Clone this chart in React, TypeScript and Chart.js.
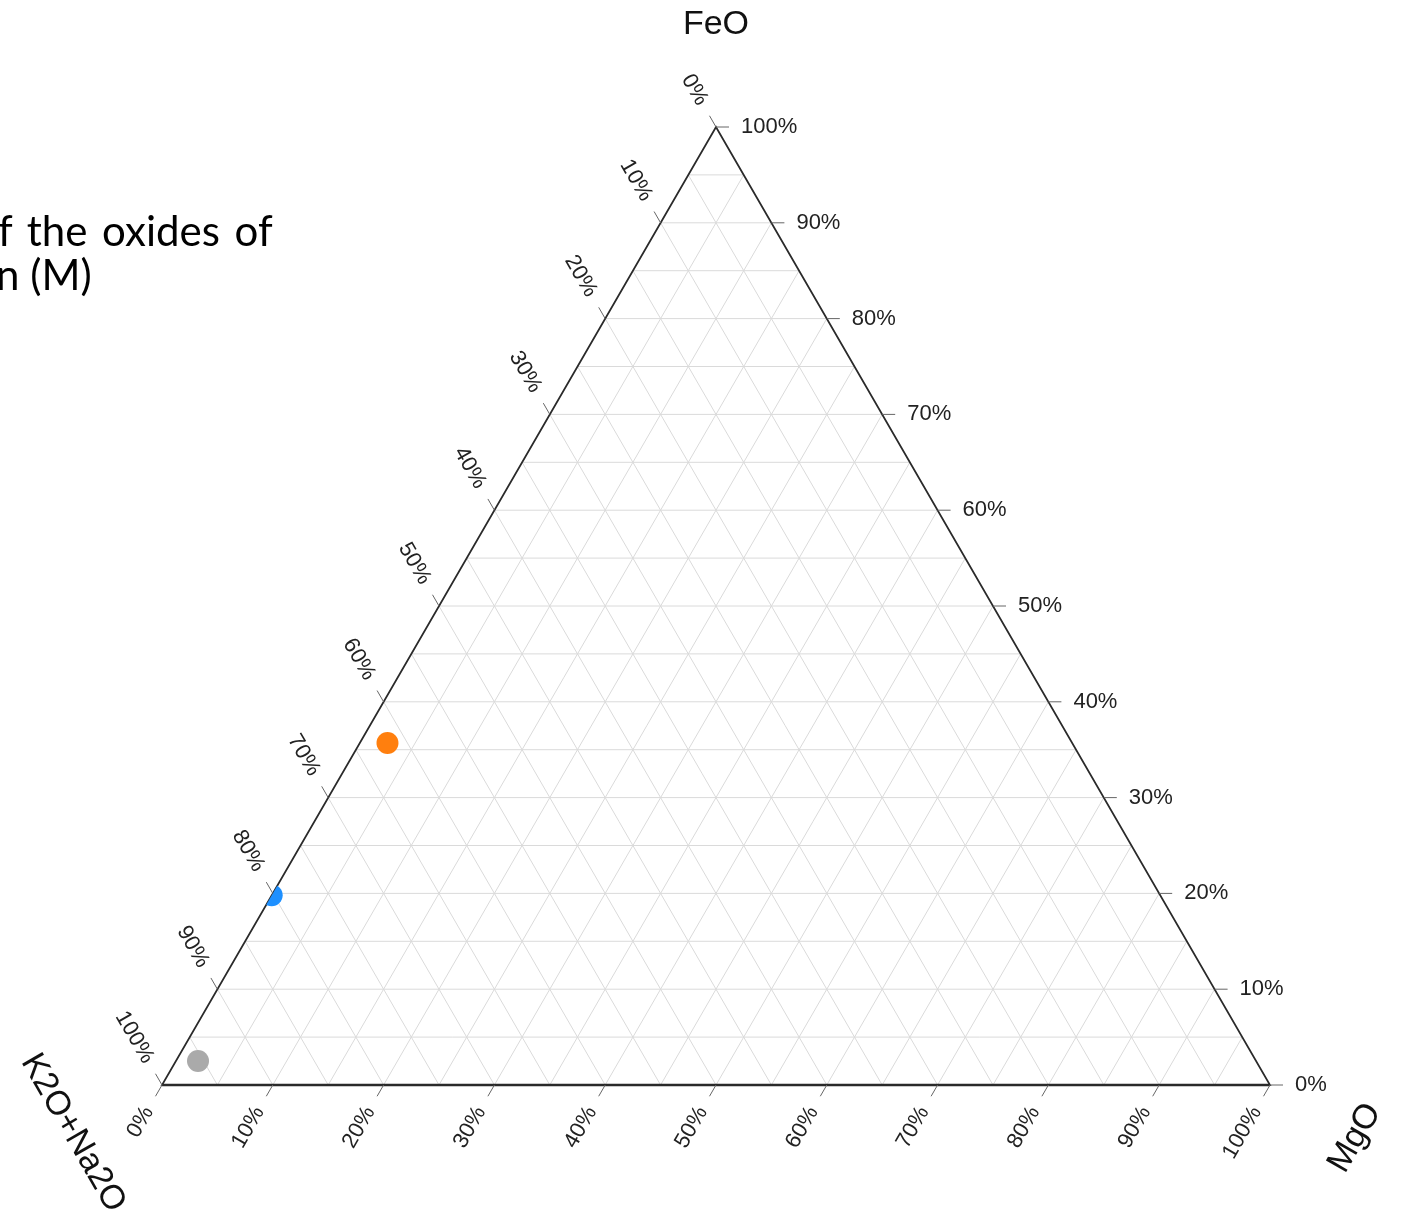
import React, { useEffect, useRef } from "react";
import { Chart, registerables } from "chart.js";

Chart.register(...registerables);

// ---- data ----
const SAMPLES = ["Sample A", "Sample B", "Sample C"];
const FEO = [35.7, 19.8, 2.5];
const MGO = [2.5, 0.0, 2.0];
const ALK = [61.8, 80.2, 95.5];
const COLORS = ["#ff7f0e", "#1e90ff", "#aaaaaa"];

const GRID_STEPS = [5, 10, 15, 20, 25, 30, 35, 40, 45, 50, 55, 60, 65, 70, 75, 80, 85, 90, 95];
const TICK_VALUES = [0, 10, 20, 30, 40, 50, 60, 70, 80, 90, 100];
const TICK_LABELS = TICK_VALUES.map((v) => v + "%");

const TITLE_TOP = "FeO";
const TITLE_LEFT = "K2O+Na2O";
const TITLE_RIGHT = "MgO";
const NOTE_LINES = ["f the oxides of", "n (M)"];

const H = Math.sqrt(3) / 2;

function toXY(m: number, f: number) {
  return { x: m + f / 2, y: f * H };
}

function pix(chart: any, m: number, f: number): [number, number] {
  const p = toXY(m, f);
  return [chart.scales.x.getPixelForValue(p.x), chart.scales.y.getPixelForValue(p.y)];
}

function trianglePath(ctx: CanvasRenderingContext2D, chart: any) {
  const a = pix(chart, 0, 0);
  const b = pix(chart, 1, 0);
  const c = pix(chart, 0, 1);
  ctx.beginPath();
  ctx.moveTo(a[0], a[1]);
  ctx.lineTo(b[0], b[1]);
  ctx.lineTo(c[0], c[1]);
  ctx.closePath();
}

const ternaryPlugin = {
  id: "ternary",
  beforeDatasetsDraw(chart: any) {
    const ctx: CanvasRenderingContext2D = chart.ctx;
    ctx.save();
    // grid
    ctx.strokeStyle = "#dadada";
    ctx.lineWidth = 1;
    GRID_STEPS.forEach((s) => {
      const g = s / 100;
      const segs: [number, number, number, number][] = [
        [0, g, 1 - g, g],
        [g, 0, g, 1 - g],
        [1 - g, 0, 0, 1 - g],
      ];
      segs.forEach(([m1, f1, m2, f2]) => {
        const p1 = pix(chart, m1, f1);
        const p2 = pix(chart, m2, f2);
        ctx.beginPath();
        ctx.moveTo(p1[0], p1[1]);
        ctx.lineTo(p2[0], p2[1]);
        ctx.stroke();
      });
    });
    // border
    ctx.strokeStyle = "#2a2a2a";
    ctx.lineWidth = 1.8;
    trianglePath(ctx, chart);
    ctx.stroke();
    const bl = pix(chart, 0, 0);
    const br = pix(chart, 1, 0);
    ctx.lineWidth = 2.6;
    ctx.beginPath();
    ctx.moveTo(bl[0], bl[1]);
    ctx.lineTo(br[0], br[1]);
    ctx.stroke();
    ctx.restore();
    // clip datasets to the triangle
    ctx.save();
    trianglePath(ctx, chart);
    ctx.clip();
  },
  afterDatasetsDraw(chart: any) {
    chart.ctx.restore();
  },
  afterDraw(chart: any) {
    const ctx: CanvasRenderingContext2D = chart.ctx;
    ctx.save();
    const tickLen = 13;
    const labelGap = 27;
    const c60 = 0.5;
    const s60 = H;
    ctx.font = "22px 'Liberation Sans', Arial, sans-serif";
    ctx.fillStyle = "#222";
    ctx.strokeStyle = "#666";
    ctx.lineWidth = 1;
    TICK_VALUES.forEach((v, i) => {
      const t = v / 100;
      const label = TICK_LABELS[i];
      // right edge: FeO
      let p = pix(chart, 1 - t, t);
      ctx.beginPath();
      ctx.moveTo(p[0], p[1]);
      ctx.lineTo(p[0] + tickLen, p[1]);
      ctx.stroke();
      ctx.textAlign = "left";
      ctx.textBaseline = "middle";
      ctx.fillText(label, p[0] + 25, p[1]);
      // left edge: K2O+Na2O
      p = pix(chart, 0, 1 - t);
      ctx.beginPath();
      ctx.moveTo(p[0], p[1]);
      ctx.lineTo(p[0] - c60 * tickLen, p[1] - s60 * tickLen);
      ctx.stroke();
      ctx.save();
      ctx.translate(p[0] - c60 * labelGap, p[1] - s60 * labelGap);
      ctx.rotate(Math.PI / 3);
      ctx.textAlign = "right";
      ctx.textBaseline = "middle";
      ctx.fillText(label, 0, 0);
      ctx.restore();
      // bottom edge: MgO
      p = pix(chart, t, 0);
      ctx.beginPath();
      ctx.moveTo(p[0], p[1]);
      ctx.lineTo(p[0] - c60 * tickLen, p[1] + s60 * tickLen);
      ctx.stroke();
      ctx.save();
      ctx.translate(p[0] - c60 * labelGap, p[1] + s60 * labelGap);
      ctx.rotate(-Math.PI / 3);
      ctx.textAlign = "right";
      ctx.textBaseline = "middle";
      ctx.fillText(label, 0, 0);
      ctx.restore();
    });
    // axis titles
    ctx.fillStyle = "#111";
    ctx.font = "34px 'Liberation Sans', Arial, sans-serif";
    ctx.textAlign = "center";
    ctx.textBaseline = "middle";
    const top = pix(chart, 0, 1);
    ctx.fillText(TITLE_TOP, top[0], top[1] - 102);
    const bl = pix(chart, 0, 0);
    ctx.save();
    ctx.translate(bl[0] - 89, bl[1] + 48);
    ctx.rotate(Math.PI / 3);
    ctx.fillText(TITLE_LEFT, 0, 0);
    ctx.restore();
    const br = pix(chart, 1, 0);
    ctx.save();
    ctx.translate(br[0] + 85, br[1] + 53);
    ctx.rotate(-Math.PI / 3);
    ctx.fillText(TITLE_RIGHT, 0, 0);
    ctx.restore();
    ctx.restore();
  },
};

export default function App() {
  const ref = useRef<HTMLCanvasElement | null>(null);
  useEffect(() => {
    if (!ref.current) return;
    const datasets = SAMPLES.map((name, i) => {
      const total = FEO[i] + MGO[i] + ALK[i];
      const f = FEO[i] / total;
      const m = MGO[i] / total;
      return {
        label: name,
        data: [toXY(m, f)],
        backgroundColor: COLORS[i],
        borderColor: COLORS[i],
        borderWidth: 0,
        pointRadius: 11,
        pointHoverRadius: 11,
        clip: false as any,
      };
    });
    const chart = new Chart(ref.current, {
      type: "scatter",
      data: { datasets },
      options: {
        animation: false,
        responsive: false,
        events: [],
        layout: { padding: { left: 162, right: 134, top: 127, bottom: 133 } },
        scales: {
          x: { type: "linear", min: 0, max: 1, display: false },
          y: { type: "linear", min: 0, max: H, display: false },
        },
        plugins: {
          legend: { display: false },
          tooltip: { enabled: false },
          title: { display: false },
        },
      },
      plugins: [ternaryPlugin],
    });
    return () => chart.destroy();
  }, []);

  const noteLeft = [-2, -4];
  return (
    <div style={{ position: "absolute", left: 0, top: 0, width: 1404, height: 1218, background: "#fff", overflow: "hidden" }}>
      <canvas ref={ref} width={1404} height={1218} style={{ position: "absolute", left: 0, top: 0 }} />
      {NOTE_LINES.map((line, i) => (
        <div
          key={i}
          style={{
            position: "absolute",
            left: noteLeft[i],
            top: 208 + i * 44,
            fontFamily: "Lato, 'Open Sans', sans-serif",
            fontSize: 42,
            lineHeight: "45px",
            wordSpacing: i === 0 ? "4px" : "0px",
            color: "#000",
            whiteSpace: "nowrap",
          }}
        >
          {line}
        </div>
      ))}
    </div>
  );
}
